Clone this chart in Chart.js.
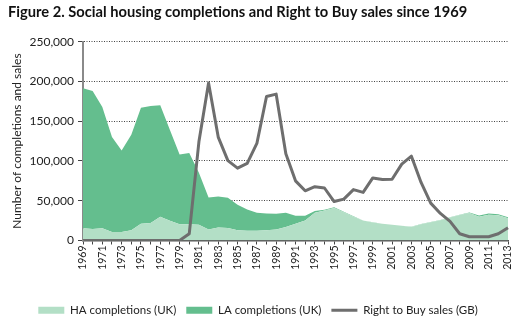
<!DOCTYPE html>
<html lang="en">
<head>
  <meta charset="UTF-8">
  <title>Social housing completions and Right to Buy sales since 1969</title>
  <script src="https://cdn.jsdelivr.net/npm/chart.js"></script>
  <style>
    html, body {
      margin: 0;
      padding: 0;
      background: #fff;
    }

    .chart-box {
      width: 527px;
      height: 327px;
      position: relative;
    }
  </style>
</head>
<body>
  <div class="chart-box">
    <canvas id="housingChart"></canvas>
  </div>

  <script>
    const years = [
      '1969', '1970', '1971', '1972', '1973', '1974', '1975', '1976', '1977', '1978',
      '1979', '1980', '1981', '1982', '1983', '1984', '1985', '1986', '1987', '1988',
      '1989', '1990', '1991', '1992', '1993', '1994', '1995', '1996', '1997', '1998',
      '1999', '2000', '2001', '2002', '2003', '2004', '2005', '2006', '2007', '2008',
      '2009', '2010', '2011', '2012', '2013'
    ];

    // housing association completions (UK)
    const haCompletions = [
      15400, 14500, 15400, 10700, 10700, 12800, 21000, 22000, 30000, 24800,
      20500, 20500, 19700, 13700, 16200, 15800, 12800, 12400, 12400, 12800,
      13700, 17000, 21000, 25000, 35000, 37600, 41000, 35500, 30000, 25000,
      22600, 21000, 19700, 18400, 17000, 20500, 23000, 25600, 29000, 32000,
      34600, 30000, 32500, 31600, 28000
    ];

    // local authority completions (UK), stacked on top of HA
    const laCompletions = [
      176000, 173500, 152500, 119500, 102500, 120000, 146000, 147000, 140000, 114000,
      87500, 89500, 65500, 40500, 39000, 38000, 32000, 26500, 22500, 21000,
      20000, 18000, 10000, 6000, 2000, 1000, 800, 500, 400, 300,
      200, 200, 200, 200, 200, 200, 200, 300, 300, 500,
      600, 1500, 1500, 1500, 1200
    ];

    // Right to Buy sales (GB)
    const rtbSales = [
      0, 0, 0, 0, 0, 0, 0, 0, 0, 0,
      0, 8500, 124000, 198000, 130000, 100500, 91000, 97000, 122000, 181000,
      184000, 109000, 75000, 62500, 67700, 66000, 49000, 52000, 64000, 60500,
      78700, 76600, 77000, 96000, 106000, 73000, 47000, 34000, 24000, 8500,
      4700, 4700, 4700, 8500, 16000
    ];

    const yMax = 250000;
    const yStep = 50000;

    const FONT = 'Lato, "Open Sans", sans-serif';
    const lightGreen = '#b3dfc6';
    const darkGreen = '#64be8e';
    const lineGrey = '#6e6e6e';

    const ctx = document.getElementById('housingChart').getContext('2d');
    new Chart(ctx, {
      type: 'line',
      data: {
        labels: years,
        datasets: [
          {
            label: 'HA completions (UK)',
            data: haCompletions,
            stack: 'built',
            backgroundColor: lightGreen,
            borderColor: lightGreen,
            borderWidth: 0,
            fill: 'origin',
            pointRadius: 0,
            tension: 0,
            order: 2
          },
          {
            label: 'LA completions (UK)',
            data: laCompletions,
            stack: 'built',
            backgroundColor: darkGreen,
            borderColor: darkGreen,
            borderWidth: 0,
            fill: '-1',
            pointRadius: 0,
            tension: 0,
            order: 3
          },
          {
            label: 'Right to Buy sales (GB)',
            data: rtbSales,
            stack: 'rtb',
            borderColor: lineGrey,
            backgroundColor: lineGrey,
            borderWidth: 3,
            borderJoinStyle: 'round',
            fill: false,
            pointRadius: 0,
            tension: 0,
            order: 1
          }
        ]
      },
      options: {
        responsive: true,
        maintainAspectRatio: false,
        animation: false,
        layout: {
          padding: { left: 8, right: 19, top: 0, bottom: 1 }
        },
        scales: {
          x: {
            offset: false,
            afterFit: (axis) => { axis.height = 54; },
            grid: {
              display: true,
              drawOnChartArea: false,
              drawTicks: true,
              tickLength: 4,
              tickColor: '#444',
              offset: false
            },
            border: { display: true, color: '#555', width: 1.5 },
            ticks: {
              autoSkip: false,
              minRotation: 90,
              maxRotation: 90,
              padding: 1,
              color: '#222',
              font: { family: FONT, size: 10.5 },
              callback: (val, idx) => (idx % 2 === 0 ? years[idx] : '')
            }
          },
          y: {
            stacked: true,
            min: 0,
            max: yMax,
            afterFit: (axis) => { axis.width = 75; },
            grid: {
              color: '#444',
              lineWidth: 1,
              drawTicks: true,
              tickLength: 5,
              tickColor: '#444',
              tickBorderDash: []
            },
            border: { display: true, color: '#8a8a8a', width: 2, dash: [1, 1.5] },
            ticks: {
              stepSize: yStep,
              padding: 4,
              color: '#222',
              font: { family: FONT, size: 12 },
              callback: (v) => v.toLocaleString('en-US')
            },
            title: {
              display: true,
              text: 'Number of completions and sales',
              color: '#222',
              font: { family: FONT, size: 12 },
              padding: { top: 2, bottom: 2 }
            }
          }
        },
        plugins: {
          title: {
            display: true,
            text: 'Figure 2. Social housing completions and Right to Buy sales since 1969',
            align: 'start',
            color: '#111',
            font: { family: FONT, size: 14.7, weight: 'bold' },
            padding: { top: 3, bottom: 21 }
          },
          legend: {
            position: 'bottom',
            labels: {
              usePointStyle: true,
              pointStyleWidth: 26,
              boxHeight: 7,
              padding: 10,
              color: '#222',
              font: { family: FONT, size: 11.5 },
              sort: (a, b) => a.datasetIndex - b.datasetIndex,
              generateLabels: (chart) => {
                const items = Chart.defaults.plugins.legend.labels.generateLabels(chart);
                items.forEach((item) => {
                  item.pointStyle = item.datasetIndex === 2 ? 'line' : 'rect';
                });
                return items;
              }
            }
          },
          tooltip: { enabled: false }
        }
      }
    });
  </script>
</body>
</html>
